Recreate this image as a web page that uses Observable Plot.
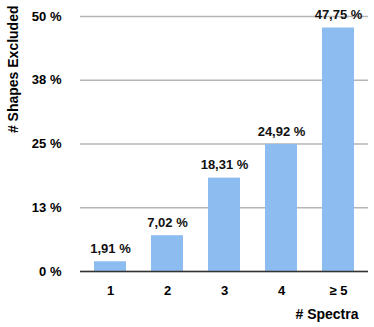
<!DOCTYPE html>
<html><head><meta charset="utf-8">
<script src="https://cdn.jsdelivr.net/npm/d3@7"></script>
<script src="https://cdn.jsdelivr.net/npm/@observablehq/plot@0.6"></script>
<style>
body{margin:0;background:#fff;font-family:"Liberation Sans",Arial,sans-serif;}
svg{font-family:"Liberation Sans",Arial,sans-serif;}
</style></head><body><div id="chart"></div>
<script>
const categories = ["1","2","3","4","≥ 5"];
const values = [1.91, 7.02, 18.31, 24.92, 47.75];
const yTicks = [0, 12.5, 25, 37.5, 50];
const xTitle = "# Spectra";
const yTitle = "# Shapes Excluded";

const data = categories.map((c,i)=>({cat:c, v:values[i]}));
const fmt = v => v.toFixed(2).replace(".", ",") + " %";

const plot = Plot.plot({
  width: 374, height: 327,
  marginTop: 16, marginBottom: 56, marginLeft: 80, marginRight: 6,
  style: {fontSize: "13px", fontWeight: "bold", color: "#000", background: "#fff"},
  x: {domain: categories, paddingInner: 0.43, paddingOuter: 0.2, label: null},
  y: {domain: [0, 50], label: null},
  marks: [
    Plot.ruleY(yTicks, {stroke: "#b5b5b5", strokeWidth: 1.5, strokeOpacity: 1}),
    Plot.barY(data, {x: "cat", y: "v", fill: "#8dbdf0"}),
    Plot.ruleY([0], {stroke: "#333", strokeWidth: 1.5}),
    Plot.axisY(yTicks, {tickFormat: d => Math.round(d) + " %", tickSize: 0, tickPadding: 19, label: null, fontWeight: "bold", fontSize: 13}),
    Plot.axisX({tickSize: 0, tickPadding: 14, label: null, fontWeight: "bold", fontSize: 13}),
    Plot.text(data, {x: "cat", y: "v", text: d => fmt(d.v), dy: -13, fontWeight: "bold", fontSize: 13, fill: "#111"}),
    Plot.text([xTitle], {frameAnchor: "bottom-right", dy: 47, dx: -10, text: d => d, fontWeight: "bold", fontSize: 14, textAnchor: "end"}),
    Plot.text([yTitle], {frameAnchor: "top-left", dx: -67, dy: -11, rotate: -90, text: d => d, fontWeight: "bold", fontSize: 14, textAnchor: "end", lineAnchor: "middle"})
  ]
});
document.getElementById("chart").appendChild(plot);
</script></body></html>
